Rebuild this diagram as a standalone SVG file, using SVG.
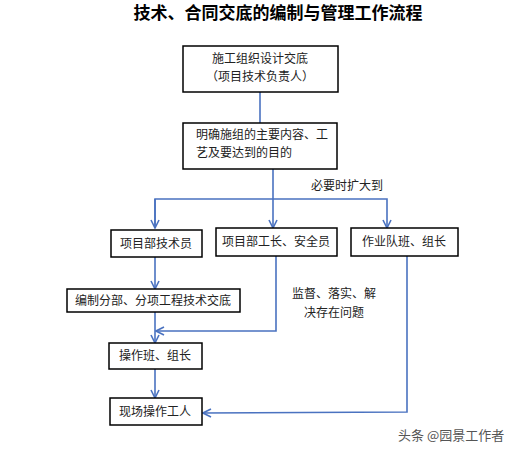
<svg xmlns="http://www.w3.org/2000/svg" width="517" height="455" viewBox="0 0 517 455">
<style>
.box{fill:#fff;stroke:#000;stroke-width:1.5}
.t{font-family:"Noto Sans CJK SC","Noto Sans",sans-serif;font-size:12px;fill:#222}
.c{text-anchor:middle}
.title{font-family:"Noto Sans CJK SC",sans-serif;font-size:17px;font-weight:bold;fill:#000;text-anchor:middle}
.ln{fill:none;stroke:#4a72c0;stroke-width:1.6}
</style>
<defs>
<marker id="ah" viewBox="0 0 10 10" refX="9" refY="5" markerWidth="10" markerHeight="10" markerUnits="userSpaceOnUse" orient="auto">
<polyline points="1,1 9,5 1,9" fill="none" stroke="#4a72c0" stroke-width="1.6"/>
</marker>
</defs>
<rect width="517" height="455" fill="#fff"/>
<text class="title" x="278" y="19">技术、合同交底的编制与管理工作流程</text>
<g id="connectors">
<line class="ln" x1="260" y1="92" x2="260" y2="123"/>
<line class="ln" x1="273" y1="169" x2="273" y2="228" marker-end="url(#ah)"/>
<polyline class="ln" points="155,228 155,199 387,199 387,228" marker-end="url(#ah)"/>
<line class="ln" x1="155" y1="199" x2="155" y2="228" marker-end="url(#ah)"/>
<line class="ln" x1="155" y1="257" x2="155" y2="289" marker-end="url(#ah)"/>
<line class="ln" x1="155" y1="312" x2="155" y2="343" marker-end="url(#ah)"/>
<polyline class="ln" points="276,256 276,331 156,331" marker-end="url(#ah)"/>
<line class="ln" x1="155" y1="369" x2="155" y2="398" marker-end="url(#ah)"/>
<polyline class="ln" points="407,256 407,412 203,413" marker-end="url(#ah)"/>
<text class="t" x="311" y="190">必要时扩大到</text>
<text class="t c" x="334" y="298">监督、落实、解</text>
<text class="t c" x="334" y="317">决存在问题</text>
</g>
<g id="n1"><rect class="box" x="183" y="46" width="155" height="46"/>
<text class="t c" x="260" y="63">施工组织设计交底</text>
<text class="t c" x="260" y="81">（项目技术负责人）</text></g>
<g id="n2"><rect class="box" x="183" y="123" width="154" height="46"/>
<text class="t" x="196" y="139">明确施组的主要内容、工</text>
<text class="t" x="196" y="157">艺及要达到的目的</text></g>
<g id="n3"><rect class="box" x="111" y="230" width="91" height="27"/>
<text class="t c" x="156" y="248">项目部技术员</text></g>
<g id="n4"><rect class="box" x="216" y="228" width="121" height="28"/>
<text class="t c" x="276" y="246">项目部工长、安全员</text></g>
<g id="n5"><rect class="box" x="351" y="228" width="107" height="28"/>
<text class="t c" x="404" y="246">作业队班、组长</text></g>
<g id="n6"><rect class="box" x="67" y="289" width="173" height="23"/>
<text class="t c" x="153" y="305">编制分部、分项工程技术交底</text></g>
<g id="n7"><rect class="box" x="109" y="343" width="93" height="26"/>
<text class="t c" x="155" y="360">操作班、组长</text></g>
<g id="n8"><rect class="box" x="110" y="398" width="92" height="27"/>
<text class="t c" x="155" y="416">现场操作工人</text></g>
<text x="398" y="440" style="font-family:'Noto Sans CJK SC',sans-serif;font-size:13px;fill:#555">头条 @园景工作者</text>
</svg>
